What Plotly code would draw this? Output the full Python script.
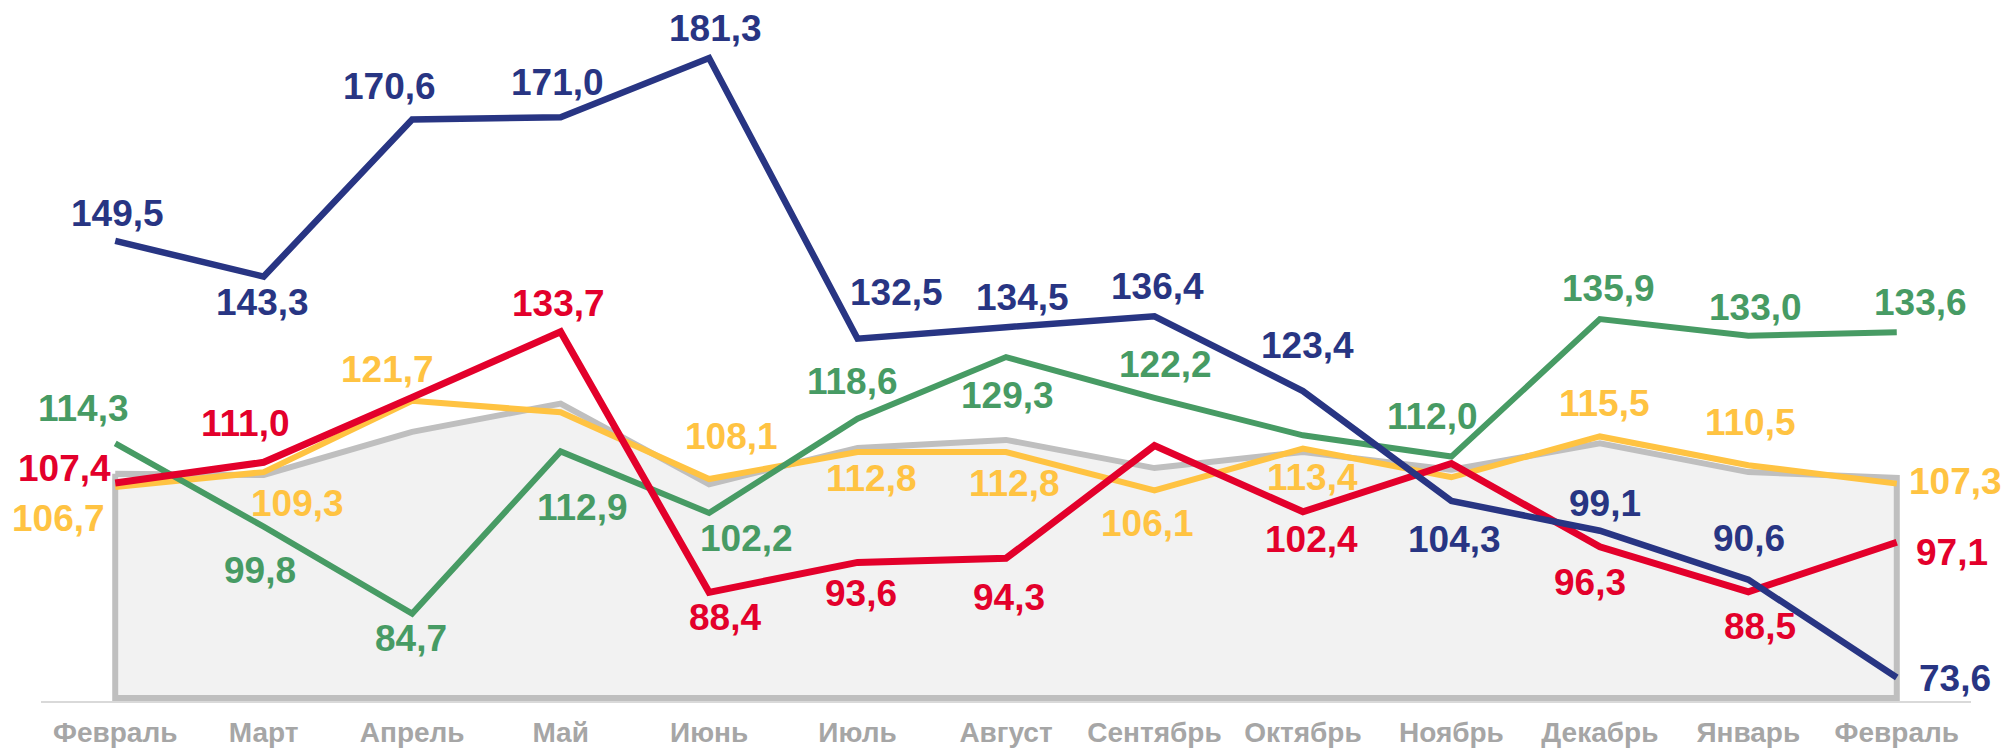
import plotly.graph_objects as go

# ---------------- data ----------------
months = ["Февраль", "Март", "Апрель", "Май", "Июнь", "Июль", "Август",
          "Сентябрь", "Октябрь", "Ноябрь", "Декабрь", "Январь", "Февраль"]

blue_vals = [149.5, 143.3, 170.6, 171.0, 181.3, 132.5, 134.5, 136.4, 123.4, 104.3, 99.1, 90.6, 73.6]
red_vals = [107.4, 111.0, 122.3, 133.7, 88.4, 93.6, 94.3, 113.9, 102.4, 110.8, 96.3, 88.5, 97.1]
green_vals = [114.3, 99.8, 84.7, 112.9, 102.2, 118.6, 129.3, 122.2, 115.7, 112.0, 135.9, 133.0, 133.6]
yellow_vals = [106.7, 109.3, 121.7, 119.7, 108.1, 112.8, 112.8, 106.1, 113.4, 108.4, 115.5, 110.5, 107.3]
gray_vals = [109.0, 108.8, 116.3, 121.2, 107.2, 113.5, 114.9, 110.0, 112.8, 109.7, 114.3, 109.3, 108.3]

# ---------------- label placement (pixel offsets from point; None = no label) ----------------
blue_lbl = [(2, -27), (-1.5, 25.5), (-23, -33), (-3.5, -35), (6, -30), (38.5, -46.6), (16, -30),
            (3.5, -30), (5, -46), (3.5, 39), (5, -27), (0.5, -41), (58, 1)]
red_lbl = [(-51, -15), (-18.5, -39), None, (-2.5, -28), (16, 25), (3.5, 31), (3, 39), None,
           (9, 28), None, (-10, 36), (11.5, 35), (55, 10)]
green_lbl = [(-32, -35), (-3.5, 44), (-1, 24.5), (21.5, 56), (37, 26), (-5.5, -37), (1, 38.5),
             (11.5, -33), None, (-18.5, -40.5), (9, -31), (7, -28), (24, -30)]
yellow_lbl = [(-57, 31), (33.5, 31), (-25, -31), None, (22, -43), (13.5, 27), (8, 32), (-6.5, 33),
              (10, 28.5), None, (5, -33), (2.5, -43), (59, -2.5)]

# ---------------- styles ----------------
BLUE = "#283583"
RED = "#E3002B"
GREEN = "#479B64"
YELLOW = "#FFC342"
GRAY_LINE = "#BFBFBF"
GRAY_FILL = "#F2F2F2"
TICK_COLOR = "#A6A6A6"
FONT = "Liberation Sans, Arial, sans-serif"
Y_MIN, Y_MAX = 69.5, 190
BASE = 70

idx = list(range(len(months)))

fig = go.Figure()

# gray area (closed polygon down to the base value)
poly_x = idx + [idx[-1], idx[0], idx[0]]
poly_y = gray_vals + [BASE, BASE, gray_vals[0]]
fig.add_trace(go.Scatter(
    x=poly_x, y=poly_y, mode="lines", fill="toself", fillcolor=GRAY_FILL,
    line=dict(color=GRAY_LINE, width=6), hoverinfo="skip", showlegend=False))

series = [
    (yellow_vals, YELLOW, 6, yellow_lbl),
    (green_vals, GREEN, 6, green_lbl),
    (red_vals, RED, 7, red_lbl),
    (blue_vals, BLUE, 6.5, blue_lbl),
]

annotations = []
for vals, color, width, lbls in series:
    fig.add_trace(go.Scatter(
        x=idx, y=vals, mode="lines", line=dict(color=color, width=width),
        hoverinfo="skip", showlegend=False))
    for i, (v, off) in enumerate(zip(vals, lbls)):
        if off is None:
            continue
        dx, dy = off
        annotations.append(dict(
            x=i, y=v, xref="x", yref="y", showarrow=False,
            text=f"{v:.1f}".replace(".", ","),
            xshift=dx, yshift=-dy, xanchor="center", yanchor="middle",
            font=dict(family=FONT, size=37, color=color, weight="bold")))

fig.update_layout(
    width=2008, height=750,
    margin=dict(l=41, r=37, t=8, b=49, autoexpand=False),
    paper_bgcolor="white", plot_bgcolor="white",
    showlegend=False,
    annotations=annotations,
    xaxis=dict(
        range=[-0.5, len(months) - 0.5],
        tickmode="array", tickvals=idx, ticktext=months,
        tickfont=dict(family=FONT, size=28, color=TICK_COLOR, weight="bold"),
        showgrid=False, zeroline=False, automargin=False,
        showline=True, linecolor="#D9D9D9", linewidth=2,
        ticks="", ticklabelstandoff=5,
    ),
    yaxis=dict(
        range=[Y_MIN, Y_MAX], visible=False, showgrid=False, zeroline=False,
        automargin=False,
    ),
)

fig.write_html(
    "out.html",
    config={"displayModeBar": False, "responsive": False},
    post_script="document.body.style.margin='0';document.body.style.overflow='hidden';",
)
